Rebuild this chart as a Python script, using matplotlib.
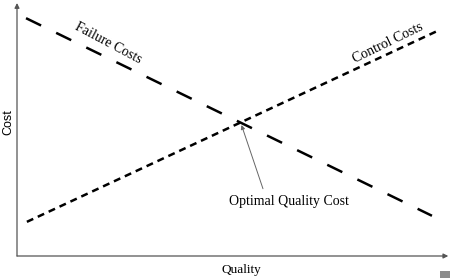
import matplotlib.pyplot as plt
from matplotlib.patches import Rectangle

plt.rcParams['font.family'] = ['Liberation Serif', 'DejaVu Serif']

# Data (quality 0-10, cost 0-10)
failure_x = [0.21, 9.65]
failure_y = [9.40, 1.59]
control_x = [0.23, 9.77]
control_y = [1.35, 8.89]
optimum = (5.20, 5.28)
optimum_label = (5.72, 2.66)

fig = plt.figure(figsize=(4.5, 2.78), dpi=100)
ax = fig.add_axes([17 / 450, 22 / 278, 430 / 450, 253 / 278])
ax.set_xlim(0, 10)
ax.set_ylim(0, 10)
for s in ax.spines.values():
    s.set_visible(False)
ax.set_xticks([])
ax.set_yticks([])

# axes with arrow heads
arrow = dict(arrowstyle='-|>', color='#555555', lw=0.9, mutation_scale=7, shrinkA=0, shrinkB=0)
ax.annotate('', xy=(10.03, 0), xytext=(0, 0), arrowprops=arrow, annotation_clip=False)
ax.annotate('', xy=(0, 10), xytext=(0, 0), arrowprops=arrow, annotation_clip=False)

ax.plot(failure_x, failure_y, color='black', lw=1.8, dashes=(6.7, 6.7), dash_capstyle='butt')
ax.plot(control_x, control_y, color='black', lw=1.8, dashes=(2.8, 2.0), dash_capstyle='butt')

ax.text(2.12, 8.4, 'Failure Costs', fontsize=10, rotation=-28, ha='center', va='center')
ax.text(8.63, 8.4, 'Control Costs', fontsize=10, rotation=26, ha='center', va='center')

ax.annotate('', xy=optimum, xytext=optimum_label,
            arrowprops=dict(arrowstyle='-|>', color='#666666', lw=0.7, mutation_scale=6, shrinkA=0, shrinkB=2))
ax.text(6.33, 2.14, 'Optimal Quality Cost', fontsize=10, ha='center', va='center')

fig.text(241 / 450, 1 - 270 / 278, 'Quality', fontsize=9.5, ha='center', va='center')
fig.text(8 / 450, 1 - 122 / 278, 'Cost', fontsize=9, rotation=90, ha='center', va='center',
         family=['Liberation Sans', 'DejaVu Sans'])

fig.patches.append(Rectangle((440 / 450, 0), 10 / 450, 7 / 278, transform=fig.transFigure,
                             facecolor='#8c8c8c', edgecolor='none'))

fig.savefig('out.png', dpi=100)
